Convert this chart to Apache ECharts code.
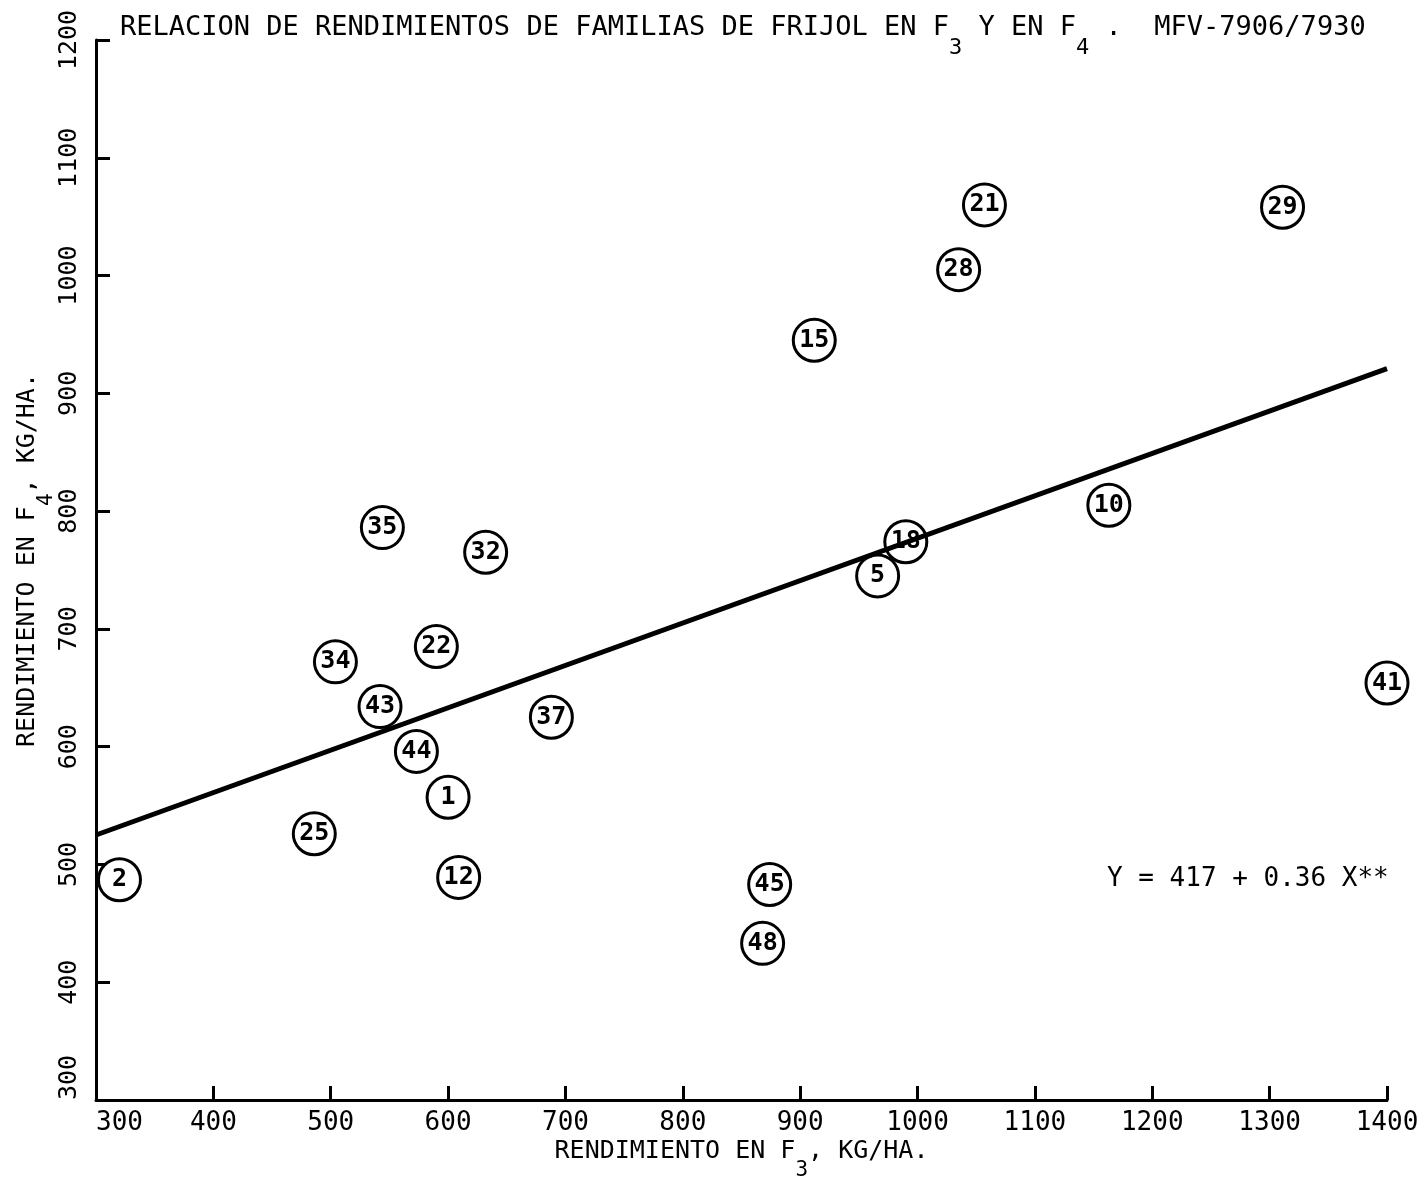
<!DOCTYPE html>
<html><head><meta charset="utf-8">
<script src="https://cdn.jsdelivr.net/npm/echarts@6/dist/echarts.min.js"></script>
<style>html,body{margin:0;padding:0;background:#fff}#c{width:1419px;height:1184px}</style>
</head><body><div id="c"></div>
<script>
// Familias (circled labels) and yields
const familias = ['2','25','34','35','43','44','22','1','12','32','37','45','48','15','5','18','28','21','10','29','41'];
const rendF3 = [320,486,504,544,542,573,590,600,609,632,688,874,868,912,966,990,1035,1057,1163,1311,1400];
const rendF4 = [487,526,672,786,634,596,685,557,489,765,625,483,433,945,745,774,1005,1060,805,1058,654];
// axis ranges / ticks
const xMin = 300, xMax = 1400, xStep = 100;
const yMin = 300, yMax = 1200, yStep = 100;
// regression Y = 417 + 0.36 X
const regA = 417, regB = 0.36;
const regX = [300, 1400];
const equation = 'Y = 417 + 0.36 X**';

const FF = '"DejaVu Sans Mono", monospace';
const chart = echarts.init(document.getElementById('c'), null, {renderer: 'canvas'});
chart.setOption({
  backgroundColor: '#fff',
  animation: false,
  title: {
    text: 'RELACION DE RENDIMIENTOS DE FAMILIAS DE FRIJOL EN F{s|3} Y EN F{s|4} .  MFV-7906/7930',
    left: 120, top: -2, padding: 0,
    textStyle: {
      fontFamily: FF, fontSize: 27, fontWeight: 'normal', color: '#000', lineHeight: 60,
      rich: { s: { fontFamily: FF, fontSize: 22, lineHeight: 22, padding: [40, 0, 0, 0], color: '#000' } }
    }
  },
  grid: { left: 96, right: 32, top: 40, bottom: 84, containLabel: false, outerBoundsMode: 'none' },
  xAxis: {
    type: 'value', min: xMin, max: xMax, interval: xStep,
    name: 'RENDIMIENTO EN F{s|3}, KG/HA.', nameLocation: 'middle', nameGap: 21, nameMoveOverlap: false,
    nameTextStyle: {
      fontFamily: FF, fontSize: 25, color: '#000', lineHeight: 60,
      rich: { s: { fontFamily: FF, fontSize: 21, lineHeight: 21, padding: [40, 0, 0, 0], color: '#000' } }
    },
    axisLine: { show: true, lineStyle: { color: '#000', width: 3 } },
    axisTick: { show: true, inside: true, length: 14, lineStyle: { color: '#000', width: 3 } },
    axisLabel: { fontFamily: FF, fontSize: 26, color: '#000', margin: 10, alignMinLabel: 'left',
                 formatter: v => String(v) },
    splitLine: { show: false }
  },
  yAxis: {
    type: 'value', min: yMin, max: yMax, interval: yStep,
    name: 'RENDIMIENTO EN F{s|4}, KG/HA.', nameLocation: 'middle', nameGap: 39, nameRotate: 90, nameMoveOverlap: false,
    nameTextStyle: {
      fontFamily: FF, fontSize: 25, color: '#000', lineHeight: 60, padding: [0, 0, 0, 20],
      rich: { s: { fontFamily: FF, fontSize: 21, lineHeight: 21, padding: [40, 0, 0, 0], color: '#000' } }
    },
    axisLine: { show: true, lineStyle: { color: '#000', width: 3 } },
    axisTick: { show: true, inside: true, length: 14, lineStyle: { color: '#000', width: 3 } },
    axisLabel: { fontFamily: FF, fontSize: 25, color: '#000', margin: 14, rotate: 90,
                 align: 'center', verticalAlign: 'bottom', alignMinLabel: 'left',
                 formatter: v => String(v) },
    splitLine: { show: false }
  },
  graphic: [{
    type: 'text', left: 1107, top: 866, z: 10,
    style: { text: equation, font: '26px "DejaVu Sans Mono"', fill: '#000' }
  }],
  series: [
    {
      type: 'scatter', clip: false, z: 2,
      symbol: 'circle', symbolSize: 42,
      itemStyle: { color: '#fff', borderColor: '#000', borderWidth: 3, opacity: 1 },
      label: { show: true, position: 'inside', formatter: p => familias[p.dataIndex],
               fontFamily: FF, fontSize: 25, fontWeight: 'bold', color: '#000' },
      data: rendF3.map((x, i) => [x, rendF4[i]])
    },
    {
      type: 'line', z: 5, silent: true, symbol: 'none',
      lineStyle: { color: '#000', width: 5 },
      data: regX.map(x => [x, regA + regB * x])
    }
  ]
});
</script></body></html>
